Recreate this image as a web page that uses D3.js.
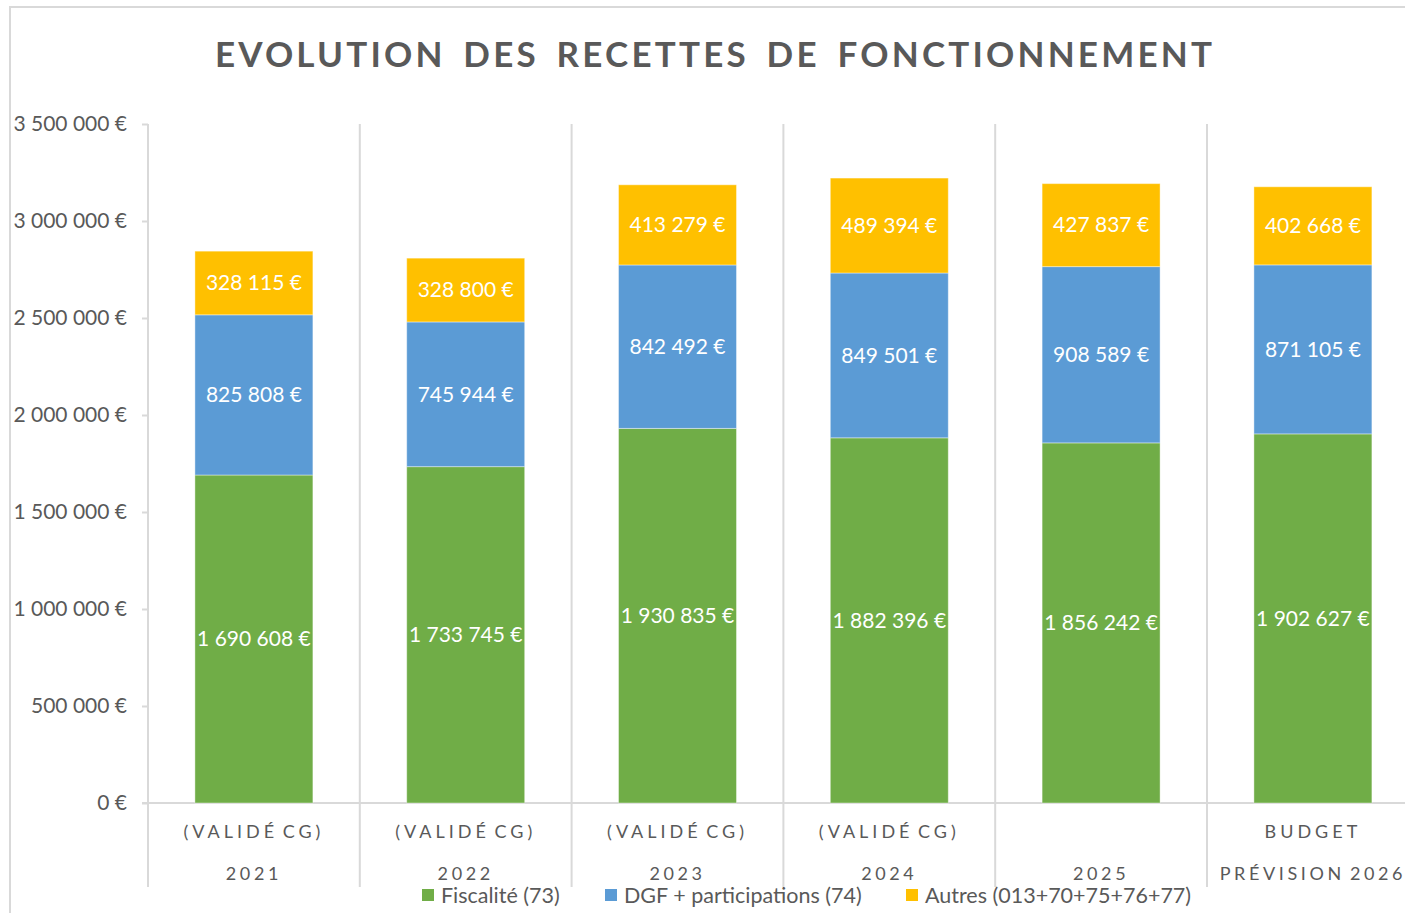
<!DOCTYPE html>
<html>
<head>
<meta charset="utf-8">
<script src="https://cdn.jsdelivr.net/npm/d3@7/dist/d3.min.js"></script>
<style>
  html, body { margin: 0; padding: 0; background: #fff; }
  svg { display: block; font-family: Lato, "Open Sans", sans-serif; }
</style>
</head>
<body>
<svg id="chart" width="1405" height="913"></svg>
<script>
  // categories: two text lines under each bar
  var catLine1 = ['(VALIDÉ CG)', '(VALIDÉ CG)', '(VALIDÉ CG)', '(VALIDÉ CG)', '', 'BUDGET'];
  var catLine2 = ['2021', '2022', '2023', '2024', '2025', 'PRÉVISION 2026'];

  // series values, in euros
  var fiscalite = [1690608, 1733745, 1930835, 1882396, 1856242, 1902627];
  var dgf       = [825808, 745944, 842492, 849501, 908589, 871105];
  var autres    = [328115, 328800, 413279, 489394, 427837, 402668];

  var seriesNames  = ['Fiscalité (73)', 'DGF + participations (74)', 'Autres (013+70+75+76+77)'];
  var seriesColors = ['#70AD47', '#5B9BD5', '#FFC000'];
  var yTicks = [0, 500000, 1000000, 1500000, 2000000, 2500000, 3000000, 3500000];

  var fr = d3.formatLocale({ decimal: ',', thousands: ' ', grouping: [3], currency: ['', ' €'] });
  var euro = fr.format('$,.0f');

  var svg = d3.select('#chart');
  var grey = '#d9d9d9',
      textGrey = '#595959';

  // outer frame
  svg.append('rect')
    .attr('x', 10).attr('y', 7)
    .attr('width', 1500).attr('height', 1000)
    .attr('fill', 'none')
    .attr('stroke', grey)
    .attr('stroke-width', 2);

  // title
  svg.append('text')
    .attr('x', 715).attr('y', 67)
    .attr('text-anchor', 'middle')
    .attr('fill', textGrey)
    .attr('font-size', 35)
    .attr('font-weight', 'bold')
    .style('letter-spacing', '3.2px')
    .style('word-spacing', '6px')
    .text('EVOLUTION DES RECETTES DE FONCTIONNEMENT');

  var x = d3.scaleBand()
    .domain(catLine2)
    .range([148, 148 + 6 * 211.8])
    .paddingInner(0.443)
    .paddingOuter(0.2215);

  var y = d3.scaleLinear()
    .domain([0, 3500000])
    .range([803, 124]);

  // category separators
  var step = x.step();
  var bounds = d3.range(7).map(function(i) { return 148 + i * step; });
  svg.append('g').selectAll('line')
    .data(bounds)
    .join('line')
    .attr('x1', function(d) { return d; })
    .attr('x2', function(d) { return d; })
    .attr('y1', 124)
    .attr('y2', 887)
    .attr('stroke', grey)
    .attr('stroke-width', 2);

  // y axis
  var yAxis = svg.append('g')
    .attr('transform', 'translate(148,0)')
    .call(d3.axisLeft(y).tickValues(yTicks).tickFormat(euro).tickSize(6).tickPadding(15));
  yAxis.select('.domain').remove();
  yAxis.selectAll('.tick line').attr('stroke', grey).attr('stroke-width', 2);
  yAxis.selectAll('.tick text')
    .attr('fill', textGrey)
    .attr('font-size', 21)
    .attr('font-family', 'Lato, sans-serif');

  // baseline
  svg.append('line')
    .attr('x1', 142).attr('x2', 1405)
    .attr('y1', y(0)).attr('y2', y(0))
    .attr('stroke', grey)
    .attr('stroke-width', 2);

  // stacked data
  var rows = catLine2.map(function(c, i) {
    return { cat: c, s0: fiscalite[i], s1: dgf[i], s2: autres[i] };
  });
  var stack = d3.stack().keys(['s0', 's1', 's2'])(rows);

  var layers = svg.append('g').selectAll('g')
    .data(stack)
    .join('g')
    .attr('fill', function(d, i) { return seriesColors[i]; });

  layers.selectAll('rect')
    .data(function(d) { return d; })
    .join('rect')
    .attr('x', function(d) { return x(d.data.cat); })
    .attr('width', x.bandwidth())
    .attr('y', function(d) { return y(d[1]); })
    .attr('height', function(d) { return y(d[0]) - y(d[1]); })
    .attr('stroke', '#fff')
    .attr('stroke-opacity', 0.4)
    .attr('stroke-width', 1);

  layers.selectAll('text')
    .data(function(d) { return d; })
    .join('text')
    .attr('x', function(d) { return x(d.data.cat) + x.bandwidth() / 2; })
    .attr('y', function(d) { return (y(d[0]) + y(d[1])) / 2; })
    .attr('dy', '0.35em')
    .attr('text-anchor', 'middle')
    .attr('fill', '#fff')
    .attr('font-size', 21)
    .text(function(d) { return euro(d[1] - d[0]); });

  // category labels
  var labels = svg.append('g').selectAll('g')
    .data(catLine2)
    .join('g')
    .attr('transform', function(d) { return 'translate(' + (x(d) + x.bandwidth() / 2) + ',0)'; });
  labels.append('text')
    .attr('y', 838)
    .attr('text-anchor', 'middle')
    .attr('fill', textGrey)
    .attr('font-size', 18)
    .style('letter-spacing', '4px')
    .style('word-spacing', '-4px')
    .text(function(d, i) { return catLine1[i]; });
  labels.append('text')
    .attr('y', 880)
    .attr('text-anchor', 'middle')
    .attr('fill', textGrey)
    .attr('font-size', 18)
    .style('letter-spacing', '3.6px')
    .style('word-spacing', '-3px')
    .text(function(d) { return d; });

  // legend
  var legendX = [422, 605, 906];
  var legend = svg.append('g').selectAll('g')
    .data(seriesNames)
    .join('g')
    .attr('transform', function(d, i) { return 'translate(' + legendX[i] + ',889)'; });
  legend.append('rect')
    .attr('width', 12).attr('height', 12)
    .attr('fill', function(d, i) { return seriesColors[i]; });
  legend.append('text')
    .attr('x', 19).attr('y', 6)
    .attr('dy', '0.35em')
    .attr('fill', textGrey)
    .attr('font-size', 21.5)
    .text(function(d) { return d; });
</script>
</body>
</html>
